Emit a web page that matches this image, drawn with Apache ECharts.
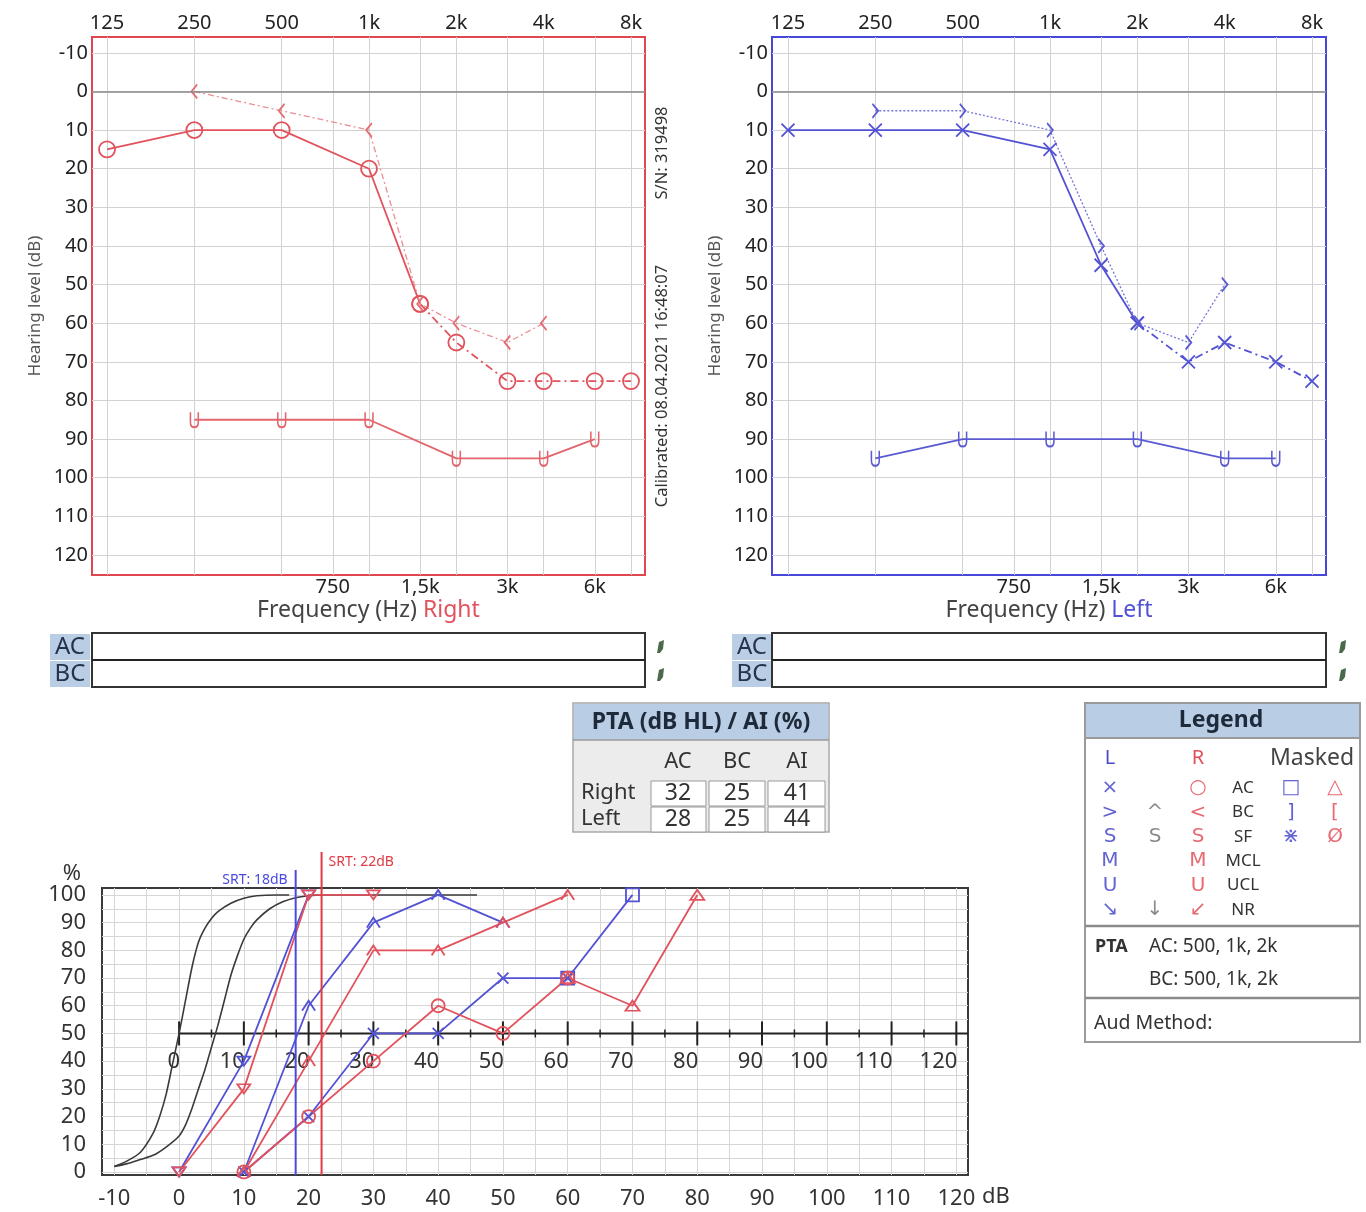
<!DOCTYPE html>
<html><head><meta charset="utf-8">
<script src="https://cdn.jsdelivr.net/npm/echarts@6/dist/echarts.min.js"></script>
<style>html,body{margin:0;padding:0;background:#fff}#c{width:1366px;height:1212px}</style>
</head><body><div id="c"></div>
<script>
// ---------------- Audiogram axes ----------------
const audTopFreqs = [125,250,500,1000,2000,4000,8000];
const audTopLabels = ['125','250','500','1k','2k','4k','8k'];
const audBottomFreqs = [750,1500,3000,6000];
const audBottomLabels = ['750','1,5k','3k','6k'];
const audGridFreqs = [125,250,500,750,1000,1500,2000,3000,4000,6000,8000];
const audDbLabels = [-10,0,10,20,30,40,50,60,70,80,90,100,110,120];

// ---------------- Right ear (red) ----------------
const rightACFreq = [125,250,500,1000,1500,2000,3000,4000,6000,8000];
const rightAC     = [15,10,10,20,55,65,75,75,75,75];
const rightBCFreq = [250,500,1000,1500,2000,3000,4000];
const rightBC     = [0,5,10,55,60,65,60];
const rightUCLFreq = [250,500,1000,2000,4000,6000];
const rightUCL     = [85,85,85,95,95,90];

// ---------------- Left ear (blue) ----------------
const leftACFreq = [125,250,500,1000,1500,2000,3000,4000,6000,8000];
const leftAC     = [10,10,10,15,45,60,70,65,70,75];
const leftBCFreq = [250,500,1000,1500,2000,3000,4000];
const leftBC     = [5,5,10,40,60,65,50];
const leftUCLFreq = [250,500,1000,2000,4000,6000];
const leftUCL     = [95,90,90,90,95,95];

// ---------------- Speech audiometry ----------------
const speechXLabels = [-10,0,10,20,30,40,50,60,70,80,90,100,110,120];
const speechXGrid = [-10,-5,0,5,10,15,20,25,30,35,40,45,50,55,60,65,70,75,80,85,90,95,100,105,110,115,120];
const speechYLabels = [0,10,20,30,40,50,60,70,80,90,100];
const speechYGrid = [0,5,10,15,20,25,30,35,40,45,50,55,60,65,70,75,80,85,90,95,100];
const innerAxisTicks = [0,5,10,15,20,25,30,35,40,45,50,55,60,65,70,75,80,85,90,95,100,105,110,115,120];
const innerAxisLevel = 50;

const normAX = [-10,-8,-6,-4,-3,-2,-1,0,1,2,3,4,5,6,8,10,12,15,17];
const normAY = [2,4,7,14,20,28,39,50,62,74,83,88,91.5,94,97,98.8,99.7,100,100];
const normBX = [-10,-8,-6,-4,-2,0,1,2,3,4,5,6,7,8,9,10,11,12,14,16,18,20,22,46];
const normBY = [2,3,4.5,6,9,13,17,23,30,37,45,53,62,71,78,84,88,91,95,97.5,99,99.7,100,100];

const rNumX = [0,10,20,30];          const rNumY = [0,30,100,100];
const lNumX = [0,10,20];             const lNumY = [0,40,100];
const rWordX = [10,20,30,40,50,60];  const rWordY = [0,40,80,80,90,100];
const lWordX = [10,20,30,40,50];     const lWordY = [0,60,90,100,90];
const rCircX = [10,20,30,40,50,60];  const rCircY = [0,20,40,60,50,70];
const rTriX = [60,70,80];            const rTriY = [70,60,100];
const lCrossX = [10,20,30,40,50,60]; const lCrossY = [0,20,50,50,70,70];
const lSqX = [60,70];                const lSqY = [70,100];
const srtLeft = 18, srtRight = 22;

// ---------------- Tables ----------------
const ptaTitle = 'PTA (dB HL) / AI (%)';
const ptaCols = ['AC','BC','AI'];
const ptaRowNames = ['Right','Left'];
const ptaValues = [[32,25,41],[28,25,44]];
const legendHead = ['L','R','Masked'];
const legendRows = [
  ['×','','○','AC','□','△'],
  ['>','^','<','BC',']','['],
  ['S','S','S','SF','⋇','Ø'],
  ['M','','M','MCL','',''],
  ['U','','U','UCL','',''],
  ['↘','↓','↙','NR','','']
];
const legendPta = ['PTA','AC: 500, 1k, 2k','BC: 500, 1k, 2k'];
const legendAud = 'Aud Method:';

// ---------------- helpers ----------------
const FONT = "'Noto Sans', 'Open Sans', sans-serif";
const RED = '#e2525c', BLUE = '#5252d4', RED_B = '#e0464e', BLUE_B = '#4848d8';
const TR = 'rgba(0,0,0,0)';
const oct = f => Math.log2(f / 125);
const pairs = (xs, ys, fx) => xs.map((x, i) => [fx ? fx(x) : x, ys[i]]);
function sub(xs, ys, test){ const ix = xs.map((x,i)=>i).filter(i=>test(xs[i])); return [ix.map(i=>xs[i]), ix.map(i=>ys[i])]; }
function freqLabel(v, fs, ls){ for (let i=0;i<fs.length;i++) if (Math.abs(oct(fs[i])-v) < 1e-6) return ls[i]; return ''; }

const SYM = {
  x: 'path://M0,0L10,10M10,0L0,10',
  lt: 'path://M9,0L0,7L9,14',
  gt: 'path://M0,0L9,7L0,14',
  u: 'path://M0,0L0,9C0,12.5 2,14 5,14C8,14 10,12.5 10,9L10,0',
  caret: 'path://M0,9L5,0L10,9',
  tdown: 'path://M0,0L12,0L6,10Z',
  tup: 'path://M6,0L12,10L0,10Z'
};

function aud(gi, xs, ys, color, sym, size, ls, extra){
  return Object.assign({
    type:'line', xAxisIndex: gi*2, yAxisIndex: gi, data: pairs(xs, ys, oct),
    symbol: sym, symbolSize: size, symbolKeepAspect: true,
    itemStyle:{color:TR, borderColor:color, borderWidth:1.8},
    lineStyle:Object.assign({color, width:1.8}, ls||{}),
    silent:true, animation:false, z:3
  }, extra||{});
}
function speech(xs, ys, color, sym, size, ls){
  return {
    type:'line', xAxisIndex:4, yAxisIndex:2, data: pairs(xs, ys),
    symbol: sym, symbolSize: size, symbolKeepAspect: true,
    itemStyle:{color:TR, borderColor:color, borderWidth:1.8},
    lineStyle:Object.assign({color, width:1.8}, ls||{}),
    silent:true, animation:false, z:3
  };
}
function audX(gi, lo, name, earColor){
  return [
    {gridIndex:gi, type:'value', min:lo, max:6.16, position:'bottom',
     axisLine:{show:false}, axisTick:{show:false, customValues: audGridFreqs.map(oct)},
     splitLine:{show:true, lineStyle:{color:'#d2d2d2', width:1}},
     axisLabel:{customValues: audBottomFreqs.map(oct), formatter: v => freqLabel(v, audBottomFreqs, audBottomLabels), fontSize:20, color:'#222', margin:2, fontFamily:FONT},
     name: '{a|Frequency (Hz)} {r|' + name + '}', nameLocation:'middle', nameGap:24,
     nameTextStyle:{fontSize:23, fontFamily:FONT, rich:{a:{fontSize:23, color:'#444', fontFamily:FONT}, r:{fontSize:23, color:earColor, fontFamily:FONT}}}},
    {gridIndex:gi, type:'value', min:lo, max:6.16, position:'top',
     axisLine:{show:false}, axisTick:{show:false}, splitLine:{show:false},
     axisLabel:{customValues: audTopFreqs.map(oct), formatter: v => freqLabel(v, audTopFreqs, audTopLabels), fontSize:20, color:'#222', margin:4, fontFamily:FONT}}
  ];
}
function audY(gi){
  return {gridIndex:gi, type:'value', inverse:true, min:-14.1, max:125.2,
    axisLine:{show:false}, axisTick:{show:false, customValues: audDbLabels},
    splitLine:{show:true, lineStyle:{color:'#d2d2d2', width:1}},
    axisLabel:{customValues: audDbLabels, fontSize:20, color:'#222', margin:4, fontFamily:FONT},
    name:'Hearing level (dB)', nameLocation:'middle', nameGap:48,
    nameTextStyle:{fontSize:17, color:'#555', fontFamily:FONT}};
}
const zeroLine = {silent:true, symbol:'none', label:{show:false}, lineStyle:{color:'#8a8a8a', width:1.5, type:'solid'}, data:[{yAxis:0}], animation:false};

// split solid / dashed parts of AC curves
const rightACSplit = 1500, leftACSplit = 2000;
const [rAcS_x, rAcS_y] = sub(rightACFreq, rightAC, f => f <= rightACSplit);
const [rAcD_x, rAcD_y] = sub(rightACFreq, rightAC, f => f >= rightACSplit);
const [lAcS_x, lAcS_y] = sub(leftACFreq, leftAC, f => f <= leftACSplit);
const [lAcD_x, lAcD_y] = sub(leftACFreq, leftAC, f => f >= leftACSplit);

function srtSeries(val, color, ext, labelDx, align){
  return {type:'custom', xAxisIndex:4, yAxisIndex:2, data:[[val]], silent:true, animation:false, z:4,
    renderItem:(params, api) => {
      const v = api.value(0);
      const b = api.coord([v, -1.1]);
      const t = api.coord([v, 102.5]);
      return {type:'group', children:[
        {type:'line', shape:{x1:b[0], y1:b[1], x2:t[0], y2:t[1]-ext}, style:{stroke:color, lineWidth:2}},
        {type:'text', x:t[0]+labelDx, y:t[1]-ext+10, style:{text:'SRT: '+v+'dB', fill:color, font:'14px '+FONT, align, verticalAlign:'middle'}}
      ]};
    }};
}

const innerAxis = {type:'custom', xAxisIndex:4, yAxisIndex:2, data: innerAxisTicks.map(v => [v, innerAxisLevel]),
  silent:true, animation:false, z:2,
  renderItem:(params, api) => {
    const v = api.value(0), lvl = api.value(1);
    const p = api.coord([v, lvl]);
    const major = v % 10 === 0;
    const h = major ? 12 : 4;
    const ch = [{type:'line', shape:{x1:p[0], y1:p[1]-h, x2:p[0], y2:p[1]+h}, style:{stroke:'#222', lineWidth: major ? 2 : 1.5}}];
    if (major) ch.push({type:'text', x:p[0]+1, y:p[1]+17, style:{text:String(v), fill:'#333', font:'22px '+FONT, align:'right', verticalAlign:'top'}});
    if (params.dataIndex === 0){
      const e = api.coord([121.8, lvl]);
      ch.push({type:'line', shape:{x1:p[0], y1:p[1], x2:e[0], y2:e[1]}, style:{stroke:'#222', lineWidth:2}});
    }
    return {type:'group', children: ch};
  }};

// ---------------- graphic (tables, strips, notes) ----------------
const G = [];
function txt(x, y, text, o){ o = o || {}; G.push({type:'text', x, y, rotation:o.rot||0, silent:true, z:10,
  style:{text, fill:o.fill||'#2a2a2a', font:(o.weight||'normal')+' '+(o.size||16)+'px '+(o.family||FONT), align:o.align||'center', verticalAlign:'middle'}}); }
function rect(x, y, w, h, fill, stroke, lw){ G.push({type:'rect', silent:true, z:9, shape:{x, y, width:w, height:h}, style:{fill, stroke:stroke||null, lineWidth:lw||1}}); }
function hline(x1, x2, y, stroke, lw){ G.push({type:'line', silent:true, z:10, shape:{x1, y1:y, x2, y2:y}, style:{stroke, lineWidth:lw}}); }

// speech y-axis unit
txt(72, 874, '%', {size:22, fill:'#333'});

// rotated notes
txt(662, 153, 'S/N: 319498', {rot:Math.PI/2, size:16.5, fill:'#333'});
txt(662, 386, 'Calibrated: 08.04.2021 16:48:07', {rot:Math.PI/2, size:16.5, fill:'#333'});

// AC/BC strips
[[50, 92, 553, 660], [732, 772, 554, 1342]].forEach(([lx, bx, bw, ix]) => {
  rect(lx, 634, 40, 26, '#b9cde5'); rect(lx, 661, 40, 26, '#b9cde5');
  txt(lx+20, 647, 'AC', {size:24, fill:'#24324a'}); txt(lx+20, 674, 'BC', {size:24, fill:'#24324a'});
  rect(bx, 633, bw, 54, '#fff', '#333', 2); hline(bx, bx+bw, 660, '#222', 2);
  [647, 675].forEach(yy => G.push({type:'polygon', silent:true, z:10, shape:{points:[[ix-3,yy+6],[ix-1,yy-5],[ix+4,yy-7],[ix+3,yy+2],[ix,yy+6]]}, style:{fill:'#4b6a4b'}}));
});

// PTA table
rect(573, 703, 256, 129, '#ececec', '#a8a8a8', 1.5);
rect(574, 704, 254, 36, '#b9cde5');
hline(573, 829, 740, '#9a9a9a', 1.5);
txt(701, 722, ptaTitle, {size:23, weight:'bold', fill:'#1e2a3a'});
const colX = [678, 737, 797], cellX = [651, 709, 768], cellW = [55, 56, 57];
ptaCols.forEach((c, i) => txt(colX[i], 762, c, {size:22, fill:'#333'}));
ptaRowNames.forEach((r, j) => {
  const yy = 781 + j*26;
  txt(581, yy+12, r, {size:22, align:'left', fill:'#333'});
  ptaValues[j].forEach((v, i) => { rect(cellX[i], yy, cellW[i], 25, '#fff', '#9a9a9a', 1); txt(colX[i], yy+12, String(v), {size:23, fill:'#333'}); });
});

// Legend
rect(1085, 703, 275, 339, '#fff', '#9a9a9a', 2);
rect(1086, 704, 273, 34, '#b9cde5');
hline(1085, 1360, 738, '#9a9a9a', 2);
hline(1085, 1360, 926, '#8a8a8a', 2.5);
hline(1085, 1360, 998, '#8a8a8a', 2.5);
txt(1221, 720, 'Legend', {size:23, weight:'bold', fill:'#1e2a3a'});
txt(1110, 758, legendHead[0], {size:20, fill:'#4a4ac8'});
txt(1198, 758, legendHead[1], {size:20, fill:'#e0505a'});
txt(1312, 758, legendHead[2], {size:23, fill:'#444'});
const lgX = [1110, 1155, 1198, 1243, 1291, 1335];
const lgC = ['#6464d2', '#8a8a8a', '#e86a72', '#333', '#6464d2', '#e86a72'];
legendRows.forEach((row, j) => {
  const yy = 788 + j*24.4;
  row.forEach((s, i) => { if (s) txt(lgX[i], yy, s, {size: i===3 ? 17 : 20, fill: lgC[i], family: i===3 ? FONT : "'DejaVu Sans', sans-serif"}); });
});
txt(1095, 947, legendPta[0], {size:18, weight:'bold', align:'left', fill:'#333'});
txt(1149, 947, legendPta[1], {size:19, align:'left', fill:'#333'});
txt(1149, 980, legendPta[2], {size:19, align:'left', fill:'#333'});
txt(1094, 1023, legendAud, {size:19.5, align:'left', fill:'#333'});

// ---------------- option ----------------
const option = {
  animation:false,
  textStyle:{fontFamily:FONT},
  grid:[
    {left:92, top:37, width:553, height:538, show:true, borderColor:RED_B, borderWidth:2, backgroundColor:'#fff'},
    {left:772, top:37, width:554, height:538, show:true, borderColor:BLUE_B, borderWidth:2, backgroundColor:'#fff'},
    {left:102, top:888, width:866, height:287, show:true, borderColor:'#3a3a3a', borderWidth:2, backgroundColor:'#fff'}
  ],
  xAxis:[
    ...audX(0, -0.172, 'Right', RED),
    ...audX(1, -0.183, 'Left', BLUE),
    {gridIndex:2, type:'value', min:-11.9, max:121.8,
     axisLine:{show:false}, axisTick:{show:false, customValues:speechXGrid},
     splitLine:{show:true, lineStyle:{color:'#d6d6d6', width:1}},
     axisLabel:{customValues:speechXLabels, fontSize:22, color:'#333', margin:13, fontFamily:FONT},
     name:'dB', nameLocation:'end', nameGap:14,
     nameTextStyle:{fontSize:22, color:'#333', fontFamily:FONT, verticalAlign:'top', padding:[14,0,0,0]}}
  ],
  yAxis:[
    audY(0), audY(1),
    {gridIndex:2, type:'value', min:-1.1, max:102.5,
     axisLine:{show:false}, axisTick:{show:false, customValues:speechYGrid},
     splitLine:{show:true, lineStyle:{color:'#d6d6d6', width:1}},
     axisLabel:{customValues:speechYLabels, fontSize:22, color:'#333', margin:16, fontFamily:FONT}}
  ],
  series:[
    // right ear
    aud(0, rAcS_x, rAcS_y, RED, 'circle', 16, {}, {markLine: zeroLine}),
    aud(0, rAcD_x, rAcD_y, RED, 'circle', 16, {type:[8,4,2,4]}),
    aud(0, rightBCFreq, rightBC, '#e46c74', SYM.lt, [9,14], {type:[6,3,2,3], width:1.3, color:'#eb8f95'}),
    aud(0, rightUCLFreq, rightUCL, '#e4646c', SYM.u, [11,15], {width:1.8}),
    // left ear
    aud(1, lAcS_x, lAcS_y, BLUE, SYM.x, 13, {}, {markLine: zeroLine}),
    aud(1, lAcD_x, lAcD_y, BLUE, SYM.x, 13, {type:[8,4,2,4]}),
    aud(1, leftBCFreq, leftBC, '#5a5ad2', SYM.gt, [9,14], {type:[2,2], width:1.3, color:'#7676d8'}),
    aud(1, leftUCLFreq, leftUCL, '#5a5ad2', SYM.u, [11,15], {width:1.8}),
    // speech
    innerAxis,
    {type:'line', xAxisIndex:4, yAxisIndex:2, data:pairs(normAX, normAY), smooth:0.25, symbol:'none', lineStyle:{color:'#3a3a3a', width:1.6}, silent:true, animation:false, z:2},
    {type:'line', xAxisIndex:4, yAxisIndex:2, data:pairs(normBX, normBY), smooth:0.25, symbol:'none', lineStyle:{color:'#3a3a3a', width:1.6}, silent:true, animation:false, z:2},
    speech(lNumX, lNumY, BLUE, SYM.tdown, [13,11]),
    speech(lWordX, lWordY, BLUE, SYM.caret, [13,11]),
    speech(lCrossX, lCrossY, BLUE, SYM.x, 11),
    speech(lSqX, lSqY, BLUE, 'rect', 13),
    speech(rNumX, rNumY, RED, SYM.tdown, [13,11]),
    speech(rWordX, rWordY, RED, SYM.caret, [13,11]),
    speech(rCircX, rCircY, RED, 'circle', 13),
    speech(rTriX, rTriY, RED, SYM.tup, [14,12]),
    srtSeries(srtLeft, '#4a4ae0', 18, -8, 'right'),
    srtSeries(srtRight, '#e03a44', 36, 7, 'left')
  ],
  graphic: G
};
const chart = echarts.init(document.getElementById('c'), null, {renderer:'canvas'});
chart.setOption(option);
</script>
</body></html>
